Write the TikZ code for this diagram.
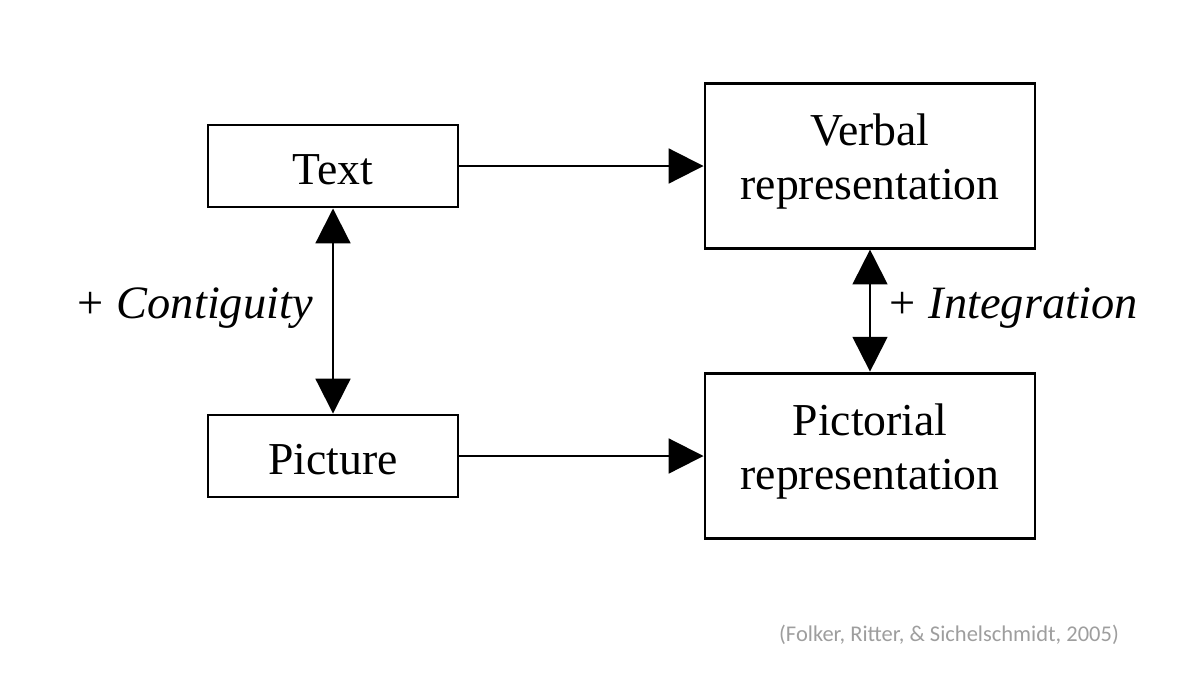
\documentclass[tikz,border=0pt]{standalone}
\usepackage{fontspec}
\setmainfont{Liberation Serif}
\newfontfamily\citefont{Carlito}
\usetikzlibrary{arrows.meta}

% lines of a box, last baseline lowered by #1 below the box centre
\newcommand{\boxlines}[2]{\raisebox{-#1}[0pt][0pt]{\begin{tabular}[b]{@{}c@{}}#2\end{tabular}}}

\tikzset{
    box/.style={draw, line width=2.1pt, inner sep=0pt, font=\fontsize{32.5}{38.3}\selectfont},
    small box/.style={box, minimum width=6.25cm, minimum height=2.05cm},
    big box/.style={box, minimum width=8.25cm, minimum height=4.125cm},
    tip/.tip={Triangle[length=0.87cm, width=0.87cm]},
    link/.style={line width=1.5pt, -tip},
    twoway/.style={line width=1.5pt, tip-tip},
    effect/.style={inner sep=0pt, font=\fontsize{33}{38}\selectfont\itshape},
}

\begin{document}
\begin{tikzpicture}

    % Set the page size
    \useasboundingbox (0,0) rectangle (30,-16.875);

    % Input boxes
    \node[small box] (text) at (8.325,-4.15) {\boxlines{13.5pt}{Text}};
    \node[small box] (picture) at (8.325,-11.4) {\boxlines{13.5pt}{Picture}};

    % Representation boxes
    \node[big box] (verbal) at (21.75,-4.14) {\boxlines{23.8pt}{Verbal\\representation}};
    \node[big box] (pictorial) at (21.75,-11.39) {\boxlines{23.8pt}{Pictorial\\representation}};

    % Arrows
    \draw[link] (text.east) -- (text.east -| verbal.west);
    \draw[link] (picture.east) -- (picture.east -| pictorial.west);
    \draw[twoway] (text.south) -- (picture.north);
    \draw[twoway] (verbal.south) -- (pictorial.north);

    % Labels
    \node[effect, anchor=base east] (contiguity) at (7.825,-7.95) {\upshape+\hspace{0.04em} \itshape Contiguity};
    \node[effect, anchor=base west] (integration) at (22.22,-7.95) {\upshape+\hspace{0.04em} \itshape Integration};

    % Source
    \node[text=black!38, font=\citefont\fontsize{16}{19}\selectfont] (source) at (23.725,-15.875) {(Folker, Ritter, \& Sichelschmidt, 2005)};
\end{tikzpicture}
\end{document}
